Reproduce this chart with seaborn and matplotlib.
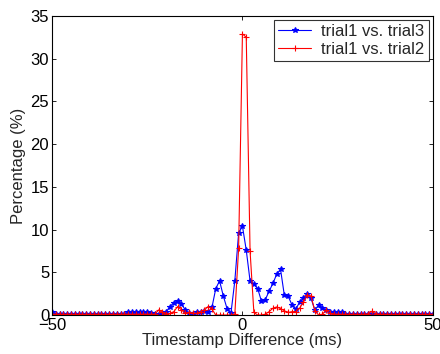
import numpy as np
import pandas as pd
import matplotlib
matplotlib.use("Agg")
import matplotlib.pyplot as plt
import seaborn as sns

# x: timestamp difference (ms), -50..50 step 1
x_ms = list(range(-50, 51))

# trial1 vs. trial3 (blue)
trial13 = (
    [0.4] + [0.15] * 19 +                       # -50 .. -31
    [0.35, 0.35, 0.35, 0.35, 0.35, 0.35,        # -30 .. -25
     0.2, 0.15, 0.1, 0.2,                       # -24 .. -21
     0.4, 1.0, 1.45, 1.65, 1.3, 0.6,            # -20 .. -15
     0.2, 0.1, 0.3, 0.4, 0.5, 0.3,              # -14 .. -9
     0.9, 3.1, 4.0, 2.2, 0.7, 0.27,             # -8 .. -3
     4.0, 9.6, 10.4, 7.6, 4.0, 3.6,             # -2 .. 3
     3.1, 1.6, 1.8, 2.8, 3.7, 4.8,              # 4 .. 9
     5.35, 2.3, 2.2, 1.2, 0.7, 1.5,             # 10 .. 15
     1.95, 2.5, 1.95, 0.6, 1.17, 0.8,           # 16 .. 21
     0.6, 0.4, 0.3, 0.4, 0.3, 0.15] +           # 22 .. 27
    [0.1] * 23                                  # 28 .. 50
)

# trial1 vs. trial2 (red)
trial12 = (
    [0.1] * 28 +                                # -50 .. -23
    [0.6, 0.3, 0.1, 0.2, 0.4, 1.0,              # -22 .. -17
     0.6, 0.2, 0.3, 0.2, 0.2, 0.4,              # -16 .. -11
     0.6, 1.0, 0.7, 0.0, 0.0, 0.0,              # -10 .. -5
     0.0, 0.0, 0.1, 7.8, 32.9, 32.5,            # -4 .. 1
     7.5, 0.3, 0.0, 0.0, 0.1, 0.4,              # 2 .. 7
     0.8, 0.95, 0.75, 0.5, 0.3, 0.4,            # 8 .. 13
     0.4, 0.8, 1.5, 2.35, 2.2, 0.5,             # 14 .. 19
     0.0, 0.1, 0.6, 0.2, 0.1, 0.1,              # 20 .. 25
     0.1, 0.1, 0.1, 0.1, 0.1, 0.1,              # 26 .. 31
     0.1, 0.15, 0.45, 0.15] +                   # 32 .. 35
    [0.1] * 15                                  # 36 .. 50
)

labels = ["trial1 vs. trial3", "trial1 vs. trial2"]
colors = ["#0000ff", "#ff0000"]
markers = ["*", "+"]
msizes = [4.0, 5.0]

sns.set_style("white")
plt.rcParams["font.family"] = ["Liberation Sans", "DejaVu Sans"]

FS = 12

fig = plt.figure(figsize=(4.4, 3.54), dpi=100)
ax = fig.add_axes([0.118, 0.110, 0.866, 0.845])

for lab, vals, col, mk, ms in zip(labels, [trial13, trial12], colors, markers, msizes):
    df = pd.DataFrame({"x": x_ms, "y": vals})
    sns.lineplot(data=df, x="x", y="y", ax=ax, color=col, marker=mk,
                 markersize=ms, markeredgewidth=0.8,
                 markeredgecolor=col, linewidth=0.8, label=lab)

ax.set_xlim(-50, 50)
ax.set_ylim(0, 35)
ax.set_xticks([-50, 0, 50])
ax.set_yticks([0, 5, 10, 15, 20, 25, 30, 35])
ax.set_xlabel("Timestamp Difference (ms)", fontsize=FS, labelpad=0)
ax.set_ylabel("Percentage (%)", fontsize=FS, labelpad=3)
ax.tick_params(direction="in", length=3, width=0.6, labelsize=FS,
               top=True, right=True, bottom=True, left=True, pad=2, colors="black")
for s in ax.spines.values():
    s.set_visible(True)
    s.set_color("black")
    s.set_linewidth(0.8)

leg = ax.legend(loc="upper right", fontsize=FS, frameon=True, fancybox=False,
                borderpad=0.25, labelspacing=0.15, handlelength=2.0,
                borderaxespad=0.25, handletextpad=0.6)
leg.get_frame().set_edgecolor("black")
leg.get_frame().set_linewidth(0.8)

fig.savefig("out.png", dpi=100)
